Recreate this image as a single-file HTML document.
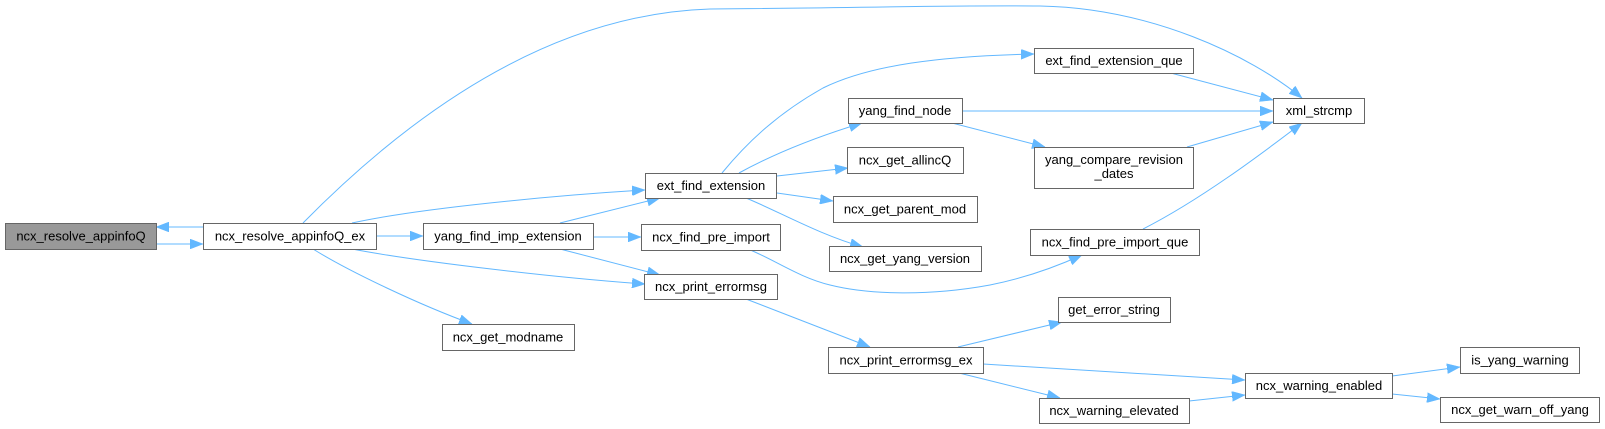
<!DOCTYPE html>
<html>
<head>
<meta charset="utf-8">
<style>
  html, body { margin:0; padding:0; background:#ffffff; }
  svg { display:block; }
  text { font-family: "Liberation Sans", Arial, sans-serif; font-size:13px; fill:#000; text-anchor:middle; }
  .n { fill:#ffffff; stroke:#666666; stroke-width:1; }
  .r { fill:#999999; stroke:#666666; stroke-width:1; }
  .e { fill:none; stroke:#63b8ff; stroke-width:1; marker-end:url(#ah); }
</style>
</head>
<body>
<svg width="1605" height="429" viewBox="0 0 1605 429" xmlns="http://www.w3.org/2000/svg">
  <defs>
    <marker id="ah" viewBox="0 0 13 10" refX="13" refY="5" markerWidth="13" markerHeight="10" markerUnits="userSpaceOnUse" orient="auto">
      <path d="M0,0 L13,5 L0,10 z" fill="#63b8ff" stroke="#63b8ff" stroke-width="0.5"/>
    </marker>
  </defs>

  <!-- edges -->
  <path class="e" d="M156,244 L203,244"/>
  <path class="e" d="M203,227 L156,227"/>
  <path class="e" d="M303,223 C370,155 520,15 710,9 C850,8 950,5 1040,6 C1150,8 1250,55 1302,98"/>
  <path class="e" d="M352,223 C420,208 560,195 645,190"/>
  <path class="e" d="M376,236 L423,236"/>
  <path class="e" d="M352,249 C420,262 560,278 645,284"/>
  <path class="e" d="M313,249 C350,272 420,305 472,324"/>
  <path class="e" d="M560,223 L660,198"/>
  <path class="e" d="M593,237 L641,237"/>
  <path class="e" d="M560,249 L660,275"/>
  <path class="e" d="M722,173 C745,145 775,115 823,88 C870,65 940,56 1034,54"/>
  <path class="e" d="M739,173 Q790,145 862,123"/>
  <path class="e" d="M777,176 L848,168"/>
  <path class="e" d="M777,193 L833,201"/>
  <path class="e" d="M746,198 C780,212 820,235 863,247"/>
  <path class="e" d="M748,249 C775,260 800,278 830,285 C870,295 930,296 990,285 C1030,277 1060,265 1082,255"/>
  <path class="e" d="M746,299 L870,347"/>
  <path class="e" d="M962,111 L1273,111"/>
  <path class="e" d="M952,123 L1045,147"/>
  <path class="e" d="M1167,72 L1273,100"/>
  <path class="e" d="M1187,147 L1273,122"/>
  <path class="e" d="M1143,229 C1200,200 1260,155 1302,123"/>
  <path class="e" d="M958,347 L1062,322"/>
  <path class="e" d="M983,364 L1245,380"/>
  <path class="e" d="M959,373 L1060,398"/>
  <path class="e" d="M1189,401 L1245,395"/>
  <path class="e" d="M1392,376 L1460,367"/>
  <path class="e" d="M1392,394 L1440,399"/>

  <!-- nodes -->
  <rect class="r" x="5.5" y="223.5" width="151" height="26"/>
  <text x="81" y="240.5">ncx_resolve_appinfoQ</text>

  <rect class="n" x="203.5" y="223.5" width="173" height="26"/>
  <text x="290" y="240.5">ncx_resolve_appinfoQ_ex</text>

  <rect class="n" x="423.5" y="223.5" width="170" height="26"/>
  <text x="508" y="240.5">yang_find_imp_extension</text>

  <rect class="n" x="442.5" y="324.5" width="132" height="26"/>
  <text x="508" y="341.5">ncx_get_modname</text>

  <rect class="n" x="645.5" y="173.5" width="131" height="25"/>
  <text x="711" y="190">ext_find_extension</text>

  <rect class="n" x="641.5" y="224.5" width="139" height="26"/>
  <text x="711" y="241.5">ncx_find_pre_import</text>

  <rect class="n" x="644.5" y="274.5" width="133" height="25"/>
  <text x="711" y="291">ncx_print_errormsg</text>

  <rect class="n" x="1034.5" y="48.5" width="159" height="25"/>
  <text x="1114" y="65">ext_find_extension_que</text>

  <rect class="n" x="848.5" y="98.5" width="114" height="25"/>
  <text x="905" y="115">yang_find_node</text>

  <rect class="n" x="847.5" y="147.5" width="116" height="26"/>
  <text x="905" y="164.5">ncx_get_allincQ</text>

  <rect class="n" x="833.5" y="196.5" width="144" height="26"/>
  <text x="905" y="213.5">ncx_get_parent_mod</text>

  <rect class="n" x="829.5" y="246.5" width="152" height="25"/>
  <text x="905" y="263">ncx_get_yang_version</text>

  <rect class="n" x="1034.5" y="147.5" width="159" height="41"/>
  <text x="1114" y="164">yang_compare_revision</text>
  <text x="1114" y="178">_dates</text>

  <rect class="n" x="1030.5" y="229.5" width="169" height="26"/>
  <text x="1115" y="246.5">ncx_find_pre_import_que</text>

  <rect class="n" x="1273.5" y="98.5" width="91" height="25"/>
  <text x="1319" y="115">xml_strcmp</text>

  <rect class="n" x="1058.5" y="297.5" width="112" height="25"/>
  <text x="1114" y="314">get_error_string</text>

  <rect class="n" x="828.5" y="347.5" width="155" height="26"/>
  <text x="906" y="364.5">ncx_print_errormsg_ex</text>

  <rect class="n" x="1039.5" y="398.5" width="150" height="25"/>
  <text x="1114" y="415">ncx_warning_elevated</text>

  <rect class="n" x="1245.5" y="373.5" width="147" height="25"/>
  <text x="1319" y="390">ncx_warning_enabled</text>

  <rect class="n" x="1460.5" y="347.5" width="119" height="26"/>
  <text x="1520" y="364.5">is_yang_warning</text>

  <rect class="n" x="1440.5" y="397.5" width="159" height="25"/>
  <text x="1520" y="414">ncx_get_warn_off_yang</text>
</svg>
</body>
</html>
